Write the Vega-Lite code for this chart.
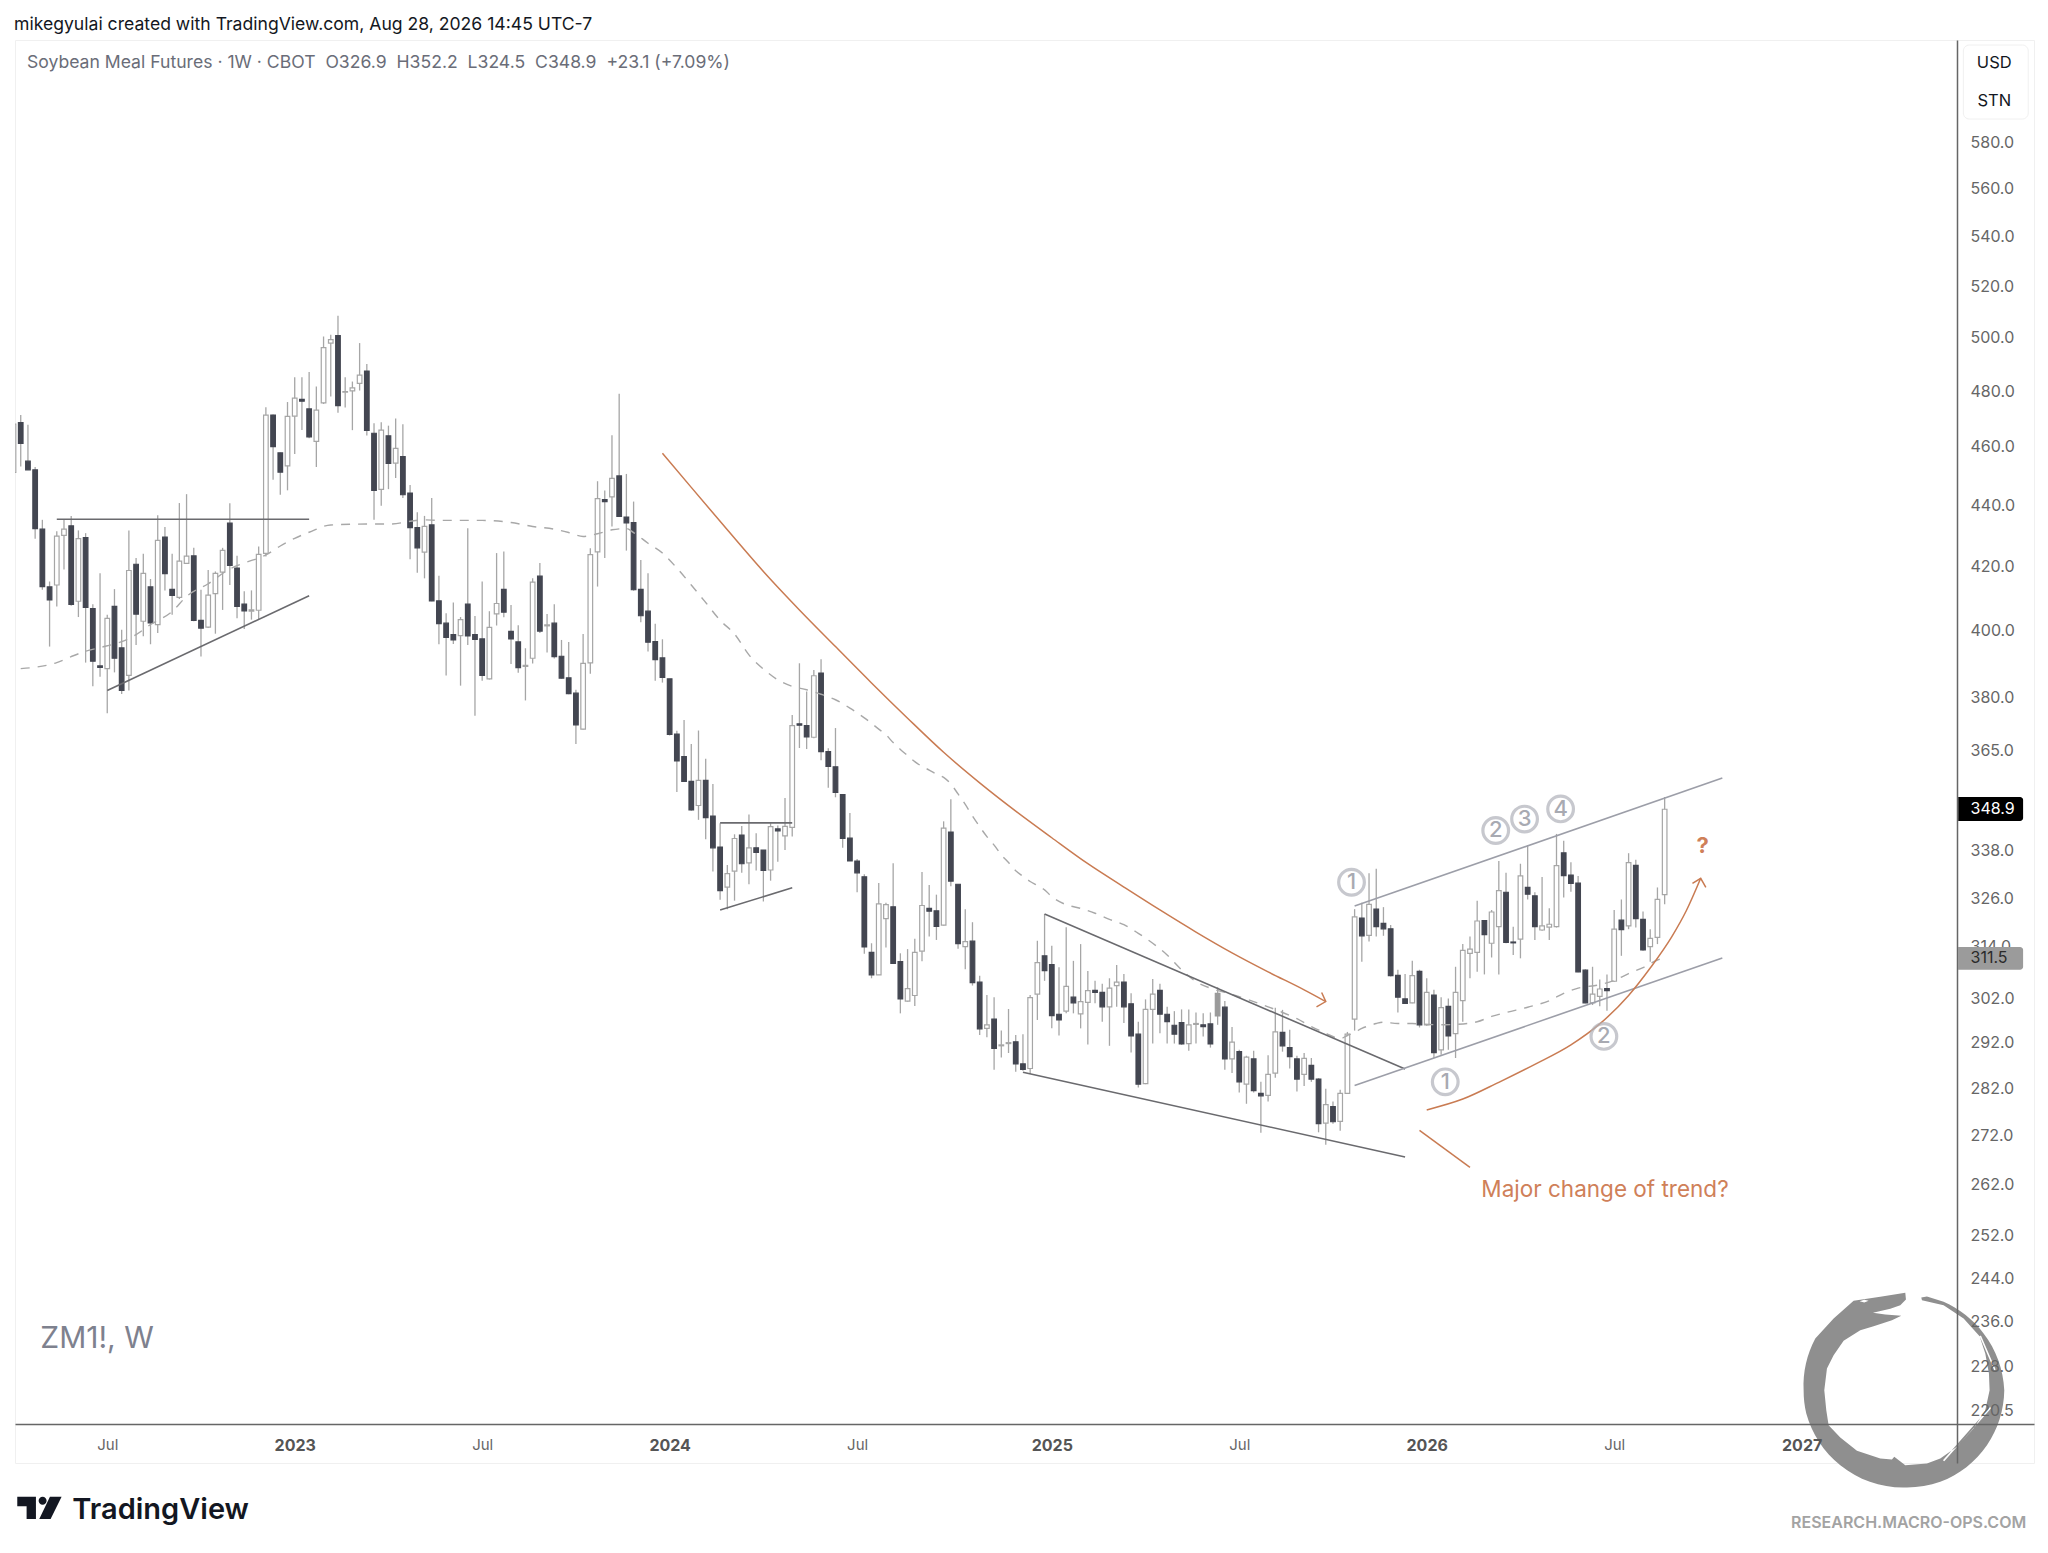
{
  "$schema": "https://vega.github.io/schema/vega-lite/v6.json",
  "width": 2019,
  "height": 1423,
  "autosize": {"type": "none"},
  "padding": {"left": 15, "top": 40, "right": 14, "bottom": 90},
  "background": "white",
  "view": {"stroke": "#f0f0f0", "strokeWidth": 1},
  "title": {
    "text": "mikegyulai created with TradingView.com, Aug 28, 2026 14:45 UTC-7",
    "anchor": "start",
    "frame": "group",
    "font": "Inter",
    "fontSize": 17.6,
    "fontWeight": "normal",
    "color": "#131722",
    "dx": -1,
    "offset": 6
  },
  "datasets": {
    "candles": [
      {"date":"2022-04-04","open":451.1,"high":468.1,"low":451.1,"close":468.1},
      {"date":"2022-04-11","open":468.6,"high":471.3,"low":453.2,"close":461.2},
      {"date":"2022-04-18","open":455.0,"high":467.8,"low":452.0,"close":452.0},
      {"date":"2022-04-25","open":452.0,"high":453.0,"low":428.9,"close":432.2},
      {"date":"2022-05-02","open":432.0,"high":435.1,"low":412.5,"close":413.5},
      {"date":"2022-05-09","open":413.4,"high":415.1,"low":395.0,"close":409.3},
      {"date":"2022-05-16","open":414.0,"high":431.3,"low":407.3,"close":429.7},
      {"date":"2022-05-23","open":430.0,"high":435.3,"low":418.9,"close":432.0},
      {"date":"2022-05-30","open":433.1,"high":436.4,"low":407.5,"close":407.9},
      {"date":"2022-06-06","open":408.9,"high":431.6,"low":404.0,"close":428.9},
      {"date":"2022-06-13","open":429.2,"high":430.7,"low":390.2,"close":407.0},
      {"date":"2022-06-20","open":406.6,"high":408.0,"low":383.2,"close":390.6},
      {"date":"2022-06-27","open":389.2,"high":417.7,"low":386.0,"close":388.8},
      {"date":"2022-07-04","open":388.4,"high":404.7,"low":375.4,"close":403.6},
      {"date":"2022-07-11","open":407.3,"high":412.7,"low":387.3,"close":391.5},
      {"date":"2022-07-18","open":394.6,"high":400.1,"low":381.0,"close":382.0},
      {"date":"2022-07-25","open":386.4,"high":431.6,"low":382.0,"close":418.6},
      {"date":"2022-08-01","open":420.6,"high":422.6,"low":395.5,"close":404.9},
      {"date":"2022-08-08","open":402.7,"high":424.0,"low":398.1,"close":417.7},
      {"date":"2022-08-15","open":413.4,"high":415.9,"low":395.7,"close":402.2},
      {"date":"2022-08-22","open":401.7,"high":436.6,"low":399.1,"close":428.3},
      {"date":"2022-08-29","open":429.4,"high":432.7,"low":412.3,"close":417.6},
      {"date":"2022-09-05","open":412.6,"high":424.0,"low":404.7,"close":410.7},
      {"date":"2022-09-12","open":410.1,"high":440.7,"low":409.6,"close":421.6},
      {"date":"2022-09-19","open":420.9,"high":443.7,"low":420.7,"close":423.2},
      {"date":"2022-09-26","open":423.3,"high":425.9,"low":402.7,"close":403.0},
      {"date":"2022-10-03","open":403.0,"high":412.5,"low":392.0,"close":400.6},
      {"date":"2022-10-10","open":400.9,"high":418.8,"low":400.6,"close":410.8},
      {"date":"2022-10-17","open":411.3,"high":418.3,"low":398.9,"close":417.7},
      {"date":"2022-10-24","open":418.1,"high":425.9,"low":406.2,"close":425.1},
      {"date":"2022-10-31","open":434.0,"high":440.6,"low":414.0,"close":420.2},
      {"date":"2022-11-07","open":419.4,"high":423.3,"low":403.6,"close":407.3},
      {"date":"2022-11-14","open":408.0,"high":412.0,"low":400.3,"close":405.9},
      {"date":"2022-11-21","open":405.8,"high":412.3,"low":403.2,"close":406.2},
      {"date":"2022-11-28","open":406.1,"high":426.3,"low":403.4,"close":423.8},
      {"date":"2022-12-05","open":424.1,"high":474.1,"low":423.1,"close":471.3},
      {"date":"2022-12-12","open":471.3,"high":471.5,"low":448.6,"close":460.1},
      {"date":"2022-12-19","open":457.9,"high":458.0,"low":443.5,"close":451.2},
      {"date":"2022-12-26","open":453.4,"high":476.0,"low":445.0,"close":470.8},
      {"date":"2023-01-02","open":470.9,"high":485.1,"low":457.5,"close":477.4},
      {"date":"2023-01-09","open":477.0,"high":485.1,"low":466.0,"close":476.3},
      {"date":"2023-01-16","open":473.5,"high":487.0,"low":463.0,"close":463.5},
      {"date":"2023-01-23","open":461.9,"high":481.7,"low":453.0,"close":473.1},
      {"date":"2023-01-30","open":475.7,"high":500.4,"low":475.3,"close":496.2},
      {"date":"2023-02-06","open":497.9,"high":501.1,"low":478.0,"close":499.2},
      {"date":"2023-02-13","open":500.7,"high":508.4,"low":472.1,"close":474.7},
      {"date":"2023-02-20","open":479.6,"high":485.1,"low":474.0,"close":479.8},
      {"date":"2023-02-27","open":480.1,"high":483.5,"low":465.9,"close":481.2},
      {"date":"2023-03-06","open":482.8,"high":497.9,"low":480.2,"close":485.9},
      {"date":"2023-03-13","open":487.4,"high":490.0,"low":464.0,"close":465.8},
      {"date":"2023-03-20","open":464.8,"high":468.4,"low":435.1,"close":445.0},
      {"date":"2023-03-27","open":445.3,"high":468.7,"low":439.8,"close":465.9},
      {"date":"2023-04-03","open":463.9,"high":467.5,"low":445.4,"close":454.2},
      {"date":"2023-04-10","open":454.3,"high":470.1,"low":449.2,"close":459.5},
      {"date":"2023-04-17","open":456.6,"high":468.0,"low":442.4,"close":443.5},
      {"date":"2023-04-24","open":444.1,"high":446.8,"low":422.2,"close":432.5},
      {"date":"2023-05-01","open":432.5,"high":437.6,"low":417.9,"close":425.9},
      {"date":"2023-05-08","open":424.5,"high":436.4,"low":416.1,"close":432.9},
      {"date":"2023-05-15","open":433.4,"high":442.4,"low":408.9,"close":409.0},
      {"date":"2023-05-22","open":409.0,"high":416.9,"low":395.7,"close":402.0},
      {"date":"2023-05-29","open":402.1,"high":405.2,"low":386.4,"close":397.8},
      {"date":"2023-06-05","open":398.6,"high":408.5,"low":395.8,"close":397.0},
      {"date":"2023-06-12","open":398.3,"high":404.0,"low":383.4,"close":403.2},
      {"date":"2023-06-19","open":408.0,"high":432.3,"low":395.5,"close":398.2},
      {"date":"2023-06-26","open":398.6,"high":404.3,"low":374.7,"close":397.2},
      {"date":"2023-07-03","open":397.3,"high":415.1,"low":384.8,"close":386.4},
      {"date":"2023-07-10","open":385.4,"high":405.8,"low":385.2,"close":400.8},
      {"date":"2023-07-17","open":405.0,"high":424.2,"low":401.4,"close":408.2},
      {"date":"2023-07-24","open":412.6,"high":424.7,"low":403.9,"close":405.5},
      {"date":"2023-07-31","open":399.6,"high":407.7,"low":389.8,"close":397.3},
      {"date":"2023-08-07","open":396.4,"high":401.5,"low":387.2,"close":388.7},
      {"date":"2023-08-14","open":389.1,"high":394.5,"low":379.1,"close":389.4},
      {"date":"2023-08-21","open":391.5,"high":416.1,"low":389.9,"close":414.9},
      {"date":"2023-08-28","open":416.8,"high":421.0,"low":399.1,"close":399.7},
      {"date":"2023-09-04","open":401.3,"high":404.9,"low":393.2,"close":401.6},
      {"date":"2023-09-11","open":402.1,"high":408.0,"low":391.4,"close":392.0},
      {"date":"2023-09-18","open":392.1,"high":397.0,"low":385.4,"close":385.6},
      {"date":"2023-09-25","open":385.7,"high":396.4,"low":380.9,"close":381.1},
      {"date":"2023-10-02","open":381.2,"high":382.2,"low":366.7,"close":372.1},
      {"date":"2023-10-09","open":370.9,"high":398.8,"low":370.8,"close":390.0},
      {"date":"2023-10-16","open":390.1,"high":425.8,"low":386.9,"close":423.7},
      {"date":"2023-10-23","open":424.6,"high":448.1,"low":413.5,"close":442.2},
      {"date":"2023-10-30","open":441.9,"high":444.9,"low":422.6,"close":441.2},
      {"date":"2023-11-06","open":442.8,"high":464.1,"low":432.9,"close":449.1},
      {"date":"2023-11-13","open":449.9,"high":479.0,"low":436.0,"close":436.2},
      {"date":"2023-11-20","open":436.0,"high":450.6,"low":425.0,"close":434.1},
      {"date":"2023-11-27","open":434.2,"high":441.2,"low":412.2,"close":412.5},
      {"date":"2023-12-04","open":412.6,"high":422.0,"low":402.4,"close":404.4},
      {"date":"2023-12-11","open":405.8,"high":417.7,"low":393.5,"close":396.3},
      {"date":"2023-12-18","open":396.5,"high":401.9,"low":384.8,"close":391.1},
      {"date":"2023-12-25","open":391.6,"high":397.2,"low":384.3,"close":385.8},
      {"date":"2024-01-01","open":385.4,"high":385.4,"low":369.1,"close":369.4},
      {"date":"2024-01-08","open":369.5,"high":370.4,"low":353.5,"close":362.0},
      {"date":"2024-01-15","open":363.2,"high":373.5,"low":356.2,"close":356.4},
      {"date":"2024-01-22","open":356.4,"high":366.7,"low":348.5,"close":348.7},
      {"date":"2024-01-29","open":349.9,"high":370.5,"low":346.1,"close":356.7},
      {"date":"2024-02-05","open":356.7,"high":362.6,"low":341.0,"close":346.7},
      {"date":"2024-02-12","open":347.1,"high":355.7,"low":332.7,"close":338.8},
      {"date":"2024-02-19","open":339.0,"high":345.2,"low":325.6,"close":327.9},
      {"date":"2024-02-26","open":328.8,"high":334.4,"low":323.3,"close":332.2},
      {"date":"2024-03-04","open":332.8,"high":342.3,"low":325.4,"close":341.2},
      {"date":"2024-03-11","open":342.1,"high":344.5,"low":332.4,"close":334.7},
      {"date":"2024-03-18","open":334.9,"high":347.5,"low":329.5,"close":338.8},
      {"date":"2024-03-25","open":338.8,"high":342.6,"low":333.0,"close":337.6},
      {"date":"2024-04-01","open":338.2,"high":338.2,"low":325.2,"close":333.0},
      {"date":"2024-04-08","open":333.1,"high":345.2,"low":330.4,"close":344.3},
      {"date":"2024-04-15","open":343.7,"high":344.6,"low":335.2,"close":343.2},
      {"date":"2024-04-22","open":341.9,"high":351.9,"low":338.2,"close":344.4},
      {"date":"2024-04-29","open":344.1,"high":374.9,"low":341.7,"close":371.9},
      {"date":"2024-05-06","open":372.4,"high":390.0,"low":365.6,"close":372.0},
      {"date":"2024-05-13","open":371.9,"high":381.7,"low":365.3,"close":368.7},
      {"date":"2024-05-20","open":368.6,"high":388.0,"low":368.3,"close":386.3},
      {"date":"2024-05-27","open":387.1,"high":391.2,"low":362.2,"close":364.6},
      {"date":"2024-06-03","open":364.6,"high":365.5,"low":354.7,"close":360.5},
      {"date":"2024-06-10","open":360.4,"high":371.2,"low":352.1,"close":353.4},
      {"date":"2024-06-17","open":352.8,"high":352.8,"low":338.8,"close":341.2},
      {"date":"2024-06-24","open":341.3,"high":347.9,"low":335.4,"close":335.4},
      {"date":"2024-07-01","open":335.4,"high":335.9,"low":327.5,"close":332.4},
      {"date":"2024-07-08","open":331.4,"high":332.0,"low":312.5,"close":314.1},
      {"date":"2024-07-15","open":312.8,"high":315.0,"low":306.7,"close":307.5},
      {"date":"2024-07-22","open":307.5,"high":329.8,"low":307.5,"close":324.6},
      {"date":"2024-07-29","open":321.0,"high":324.9,"low":314.0,"close":324.4},
      {"date":"2024-08-05","open":323.9,"high":334.8,"low":310.1,"close":310.2},
      {"date":"2024-08-12","open":310.6,"high":312.6,"low":298.6,"close":301.9},
      {"date":"2024-08-19","open":301.4,"high":313.6,"low":301.3,"close":304.3},
      {"date":"2024-08-26","open":302.7,"high":316.1,"low":300.3,"close":312.8},
      {"date":"2024-09-02","open":313.1,"high":332.6,"low":310.7,"close":324.2},
      {"date":"2024-09-09","open":323.5,"high":329.3,"low":316.6,"close":322.8},
      {"date":"2024-09-16","open":322.9,"high":326.9,"low":315.8,"close":319.1},
      {"date":"2024-09-23","open":319.4,"high":345.7,"low":319.3,"close":343.9},
      {"date":"2024-09-30","open":342.9,"high":351.6,"low":329.0,"close":330.3},
      {"date":"2024-10-07","open":329.5,"high":329.5,"low":313.7,"close":314.9},
      {"date":"2024-10-14","open":314.2,"high":323.3,"low":308.8,"close":315.4},
      {"date":"2024-10-21","open":315.5,"high":320.1,"low":305.0,"close":305.7},
      {"date":"2024-10-28","open":305.8,"high":307.3,"low":293.7,"close":295.1},
      {"date":"2024-11-04","open":295.2,"high":302.8,"low":293.2,"close":296.0},
      {"date":"2024-11-11","open":297.3,"high":302.3,"low":286.0,"close":290.7},
      {"date":"2024-11-18","open":291.3,"high":294.7,"low":288.7,"close":291.5},
      {"date":"2024-11-25","open":291.8,"high":299.6,"low":289.7,"close":292.0},
      {"date":"2024-12-02","open":292.2,"high":293.7,"low":285.6,"close":287.3},
      {"date":"2024-12-09","open":287.3,"high":293.9,"low":285.8,"close":286.1},
      {"date":"2024-12-16","open":286.3,"high":302.8,"low":285.1,"close":302.2},
      {"date":"2024-12-23","open":303.0,"high":315.6,"low":297.1,"close":310.4},
      {"date":"2024-12-30","open":312.0,"high":322.1,"low":306.1,"close":308.5},
      {"date":"2025-01-06","open":309.9,"high":314.4,"low":295.2,"close":298.1},
      {"date":"2025-01-13","open":298.4,"high":309.3,"low":293.6,"close":297.1},
      {"date":"2025-01-20","open":299.1,"high":318.9,"low":298.6,"close":304.8},
      {"date":"2025-01-27","open":302.3,"high":310.8,"low":298.6,"close":301.0},
      {"date":"2025-02-03","open":298.5,"high":314.8,"low":295.2,"close":301.3},
      {"date":"2025-02-10","open":301.1,"high":308.4,"low":291.6,"close":303.8},
      {"date":"2025-02-17","open":303.9,"high":306.1,"low":300.9,"close":303.4},
      {"date":"2025-02-24","open":303.4,"high":305.4,"low":296.7,"close":300.1},
      {"date":"2025-03-03","open":300.1,"high":306.7,"low":291.3,"close":304.4},
      {"date":"2025-03-10","open":305.0,"high":309.8,"low":300.1,"close":305.8},
      {"date":"2025-03-17","open":305.8,"high":307.7,"low":296.4,"close":300.1},
      {"date":"2025-03-24","open":300.8,"high":303.2,"low":289.8,"close":293.5},
      {"date":"2025-03-31","open":293.9,"high":296.7,"low":282.2,"close":282.9},
      {"date":"2025-04-07","open":283.0,"high":301.8,"low":282.9,"close":299.5},
      {"date":"2025-04-14","open":299.5,"high":306.5,"low":291.8,"close":303.0},
      {"date":"2025-04-21","open":303.9,"high":305.4,"low":294.1,"close":298.4},
      {"date":"2025-04-28","open":298.4,"high":300.1,"low":291.8,"close":296.7},
      {"date":"2025-05-05","open":295.9,"high":299.1,"low":291.8,"close":293.9},
      {"date":"2025-05-12","open":296.5,"high":299.5,"low":291.5,"close":291.7},
      {"date":"2025-05-19","open":291.8,"high":299.5,"low":290.2,"close":296.0},
      {"date":"2025-05-26","open":296.1,"high":298.8,"low":291.8,"close":296.3},
      {"date":"2025-06-02","open":296.0,"high":298.6,"low":293.4,"close":295.6},
      {"date":"2025-06-09","open":296.2,"high":298.8,"low":290.9,"close":291.7},
      {"date":"2025-06-16","open":303.2,"high":304.6,"low":296.0,"close":298.0},
      {"date":"2025-06-23","open":300.0,"high":301.4,"low":286.0,"close":288.4},
      {"date":"2025-06-30","open":288.4,"high":295.5,"low":285.3,"close":292.1},
      {"date":"2025-07-07","open":290.0,"high":290.4,"low":281.1,"close":283.4},
      {"date":"2025-07-14","open":282.9,"high":289.1,"low":278.7,"close":288.8},
      {"date":"2025-07-21","open":288.4,"high":290.2,"low":281.1,"close":281.5},
      {"date":"2025-07-28","open":280.9,"high":283.4,"low":272.6,"close":280.4},
      {"date":"2025-08-04","open":280.5,"high":289.2,"low":279.2,"close":285.0},
      {"date":"2025-08-11","open":285.3,"high":299.9,"low":284.3,"close":294.4},
      {"date":"2025-08-18","open":294.3,"high":299.4,"low":290.0,"close":291.3},
      {"date":"2025-08-25","open":290.9,"high":294.9,"low":286.3,"close":288.9},
      {"date":"2025-09-01","open":288.4,"high":289.1,"low":281.3,"close":284.0},
      {"date":"2025-09-08","open":285.0,"high":289.7,"low":282.5,"close":288.5},
      {"date":"2025-09-15","open":287.0,"high":288.6,"low":283.4,"close":284.0},
      {"date":"2025-09-22","open":284.0,"high":284.2,"low":272.7,"close":274.5},
      {"date":"2025-09-29","open":274.6,"high":281.9,"low":270.1,"close":278.5},
      {"date":"2025-10-06","open":278.1,"high":279.2,"low":274.5,"close":274.9},
      {"date":"2025-10-13","open":275.0,"high":281.7,"low":273.0,"close":280.9},
      {"date":"2025-10-20","open":280.9,"high":294.4,"low":280.8,"close":293.9},
      {"date":"2025-10-27","open":297.3,"high":323.3,"low":294.7,"close":321.4},
      {"date":"2025-11-03","open":321.1,"high":324.9,"low":310.6,"close":316.8},
      {"date":"2025-11-10","open":316.9,"high":332.3,"low":315.4,"close":324.5},
      {"date":"2025-11-17","open":323.3,"high":333.4,"low":316.6,"close":319.0},
      {"date":"2025-11-24","open":319.8,"high":323.8,"low":316.8,"close":318.5},
      {"date":"2025-12-01","open":318.5,"high":319.4,"low":307.1,"close":307.3},
      {"date":"2025-12-08","open":307.4,"high":308.7,"low":298.8,"close":302.3},
      {"date":"2025-12-15","open":301.9,"high":307.7,"low":300.8,"close":300.9},
      {"date":"2025-12-22","open":301.0,"high":310.8,"low":300.9,"close":307.3},
      {"date":"2025-12-29","open":308.3,"high":308.7,"low":295.4,"close":296.0},
      {"date":"2026-01-05","open":296.0,"high":306.7,"low":295.8,"close":303.4},
      {"date":"2026-01-12","open":302.8,"high":304.0,"low":288.6,"close":289.8},
      {"date":"2026-01-19","open":290.4,"high":302.3,"low":289.3,"close":299.9},
      {"date":"2026-01-26","open":300.2,"high":302.0,"low":290.4,"close":293.5},
      {"date":"2026-02-02","open":294.0,"high":309.4,"low":288.6,"close":303.4},
      {"date":"2026-02-09","open":301.5,"high":314.8,"low":296.7,"close":313.3},
      {"date":"2026-02-16","open":312.6,"high":316.6,"low":306.7,"close":313.6},
      {"date":"2026-02-23","open":312.8,"high":325.4,"low":308.2,"close":320.4},
      {"date":"2026-03-02","open":320.5,"high":320.6,"low":307.6,"close":317.1},
      {"date":"2026-03-09","open":315.0,"high":323.1,"low":311.6,"close":322.6},
      {"date":"2026-03-16","open":319.0,"high":335.4,"low":307.6,"close":327.9},
      {"date":"2026-03-23","open":327.5,"high":332.4,"low":315.0,"close":315.2},
      {"date":"2026-03-30","open":315.3,"high":319.0,"low":312.2,"close":315.1},
      {"date":"2026-04-06","open":316.0,"high":334.7,"low":311.4,"close":331.6},
      {"date":"2026-04-13","open":328.7,"high":339.5,"low":325.7,"close":327.0},
      {"date":"2026-04-20","open":326.6,"high":327.5,"low":315.8,"close":319.0},
      {"date":"2026-04-27","open":318.2,"high":331.3,"low":318.0,"close":319.2},
      {"date":"2026-05-04","open":318.9,"high":323.5,"low":315.8,"close":319.6},
      {"date":"2026-05-11","open":319.0,"high":342.4,"low":318.8,"close":334.2},
      {"date":"2026-05-18","open":337.5,"high":340.6,"low":326.2,"close":331.7},
      {"date":"2026-05-25","open":331.8,"high":335.1,"low":327.6,"close":329.7},
      {"date":"2026-06-01","open":329.8,"high":331.6,"low":308.1,"close":308.2},
      {"date":"2026-06-08","open":308.6,"high":308.8,"low":300.9,"close":301.0},
      {"date":"2026-06-15","open":301.0,"high":309.4,"low":300.5,"close":303.0},
      {"date":"2026-06-22","open":302.5,"high":306.4,"low":300.2,"close":304.2},
      {"date":"2026-06-29","open":304.3,"high":307.6,"low":299.2,"close":303.8},
      {"date":"2026-07-06","open":306.0,"high":323.1,"low":305.8,"close":318.4},
      {"date":"2026-07-13","open":320.6,"high":325.7,"low":312.0,"close":318.3},
      {"date":"2026-07-20","open":319.2,"high":337.4,"low":318.4,"close":335.0},
      {"date":"2026-07-27","open":334.3,"high":335.7,"low":318.8,"close":321.0},
      {"date":"2026-08-03","open":320.8,"high":322.7,"low":313.2,"close":313.4},
      {"date":"2026-08-10","open":314.2,"high":318.4,"low":310.6,"close":316.2},
      {"date":"2026-08-17","open":316.4,"high":328.7,"low":314.8,"close":325.7},
      {"date":"2026-08-24","open":326.9,"high":352.2,"low":324.5,"close":348.9}
    ],
    "ma": [
      {"date":"2022-04-11","price":388.4},{"date":"2022-05-16","price":390.2},{"date":"2022-05-30","price":392.0},
      {"date":"2022-06-13","price":393.6},{"date":"2022-06-27","price":394.7},{"date":"2022-07-18","price":396.5},
      {"date":"2022-08-01","price":398.6},{"date":"2022-08-15","price":401.7},{"date":"2022-09-05","price":405.7},
      {"date":"2022-09-19","price":410.4},{"date":"2022-10-10","price":414.4},{"date":"2022-10-31","price":419.1},
      {"date":"2022-11-14","price":421.0},{"date":"2022-12-05","price":423.6},{"date":"2022-12-19","price":426.5},
      {"date":"2023-01-02","price":429.0},{"date":"2023-01-16","price":431.0},{"date":"2023-02-06","price":433.4},
      {"date":"2023-03-13","price":433.7},{"date":"2023-04-03","price":433.7},{"date":"2023-05-08","price":435.1},
      {"date":"2023-05-22","price":434.9},{"date":"2023-07-03","price":434.9},{"date":"2023-07-31","price":434.2},
      {"date":"2023-08-21","price":432.9},{"date":"2023-09-11","price":432.0},{"date":"2023-09-25","price":430.9},
      {"date":"2023-10-09","price":429.6},{"date":"2023-10-23","price":430.5},{"date":"2023-11-06","price":431.8},
      {"date":"2023-11-20","price":432.2},{"date":"2023-11-27","price":430.9},{"date":"2023-12-11","price":427.4},
      {"date":"2023-12-25","price":424.2},{"date":"2024-01-08","price":419.4},{"date":"2024-01-22","price":414.0},
      {"date":"2024-02-05","price":408.5},{"date":"2024-02-19","price":403.0},{"date":"2024-03-04","price":398.8},
      {"date":"2024-03-18","price":392.5},{"date":"2024-04-01","price":388.3},{"date":"2024-04-15","price":385.1},
      {"date":"2024-04-29","price":383.2},{"date":"2024-05-13","price":382.2},{"date":"2024-05-27","price":380.9},
      {"date":"2024-06-10","price":379.3},{"date":"2024-06-24","price":376.9},{"date":"2024-07-08","price":374.1},
      {"date":"2024-07-22","price":370.9},{"date":"2024-07-29","price":369.3},{"date":"2024-08-05","price":367.1},
      {"date":"2024-08-12","price":365.2},{"date":"2024-08-19","price":363.5},{"date":"2024-08-26","price":361.8},
      {"date":"2024-09-02","price":360.5},{"date":"2024-09-09","price":359.5},{"date":"2024-09-16","price":358.4},
      {"date":"2024-09-23","price":357.5},{"date":"2024-09-30","price":355.7},{"date":"2024-10-07","price":353.0},
      {"date":"2024-10-14","price":350.2},{"date":"2024-10-21","price":347.1},{"date":"2024-10-28","price":344.3},
      {"date":"2024-11-04","price":341.7},{"date":"2024-11-11","price":339.5},{"date":"2024-11-18","price":337.0},
      {"date":"2024-11-25","price":335.0},{"date":"2024-12-02","price":332.9},{"date":"2024-12-09","price":331.5},
      {"date":"2024-12-16","price":330.2},{"date":"2024-12-23","price":329.2},{"date":"2024-12-30","price":328.1},
      {"date":"2025-01-06","price":326.4},{"date":"2025-01-20","price":324.4},
      {"date":"2025-02-03","price":323.5},{"date":"2025-02-17","price":322.3},{"date":"2025-03-03","price":320.8},
      {"date":"2025-03-17","price":319.5},{"date":"2025-03-31","price":317.4},{"date":"2025-04-14","price":315.0},
      {"date":"2025-04-28","price":312.2},{"date":"2025-05-12","price":308.7},{"date":"2025-05-26","price":305.9},
      {"date":"2025-06-09","price":304.4},{"date":"2025-06-23","price":303.4},{"date":"2025-07-07","price":302.4},
      {"date":"2025-07-21","price":301.3},{"date":"2025-08-04","price":300.1},{"date":"2025-08-18","price":298.8},
      {"date":"2025-09-01","price":297.4},{"date":"2025-09-15","price":295.6},{"date":"2025-09-29","price":294.1},
      {"date":"2025-10-13","price":292.9},{"date":"2025-10-20","price":293.6},{"date":"2025-10-27","price":294.3},
      {"date":"2025-11-03","price":295.2},{"date":"2025-11-10","price":295.8},{"date":"2025-11-17","price":296.3},
      {"date":"2025-11-24","price":296.6},{"date":"2025-12-08","price":296.3},{"date":"2025-12-22","price":296.3},
      {"date":"2025-12-29","price":296.2},{"date":"2026-01-19","price":296.0},{"date":"2026-02-02","price":296.1},
      {"date":"2026-02-23","price":296.7},{"date":"2026-03-09","price":297.9},{"date":"2026-03-23","price":298.8},
      {"date":"2026-04-13","price":300.0},{"date":"2026-05-04","price":301.5},{"date":"2026-05-18","price":303.2},
      {"date":"2026-06-01","price":304.4},{"date":"2026-06-22","price":305.2},{"date":"2026-07-06","price":306.2},
      {"date":"2026-07-20","price":307.8},{"date":"2026-08-03","price":309.2},{"date":"2026-08-17","price":311.0},
      {"date":"2026-08-24","price":311.5}
    ],
    "trendlines": [
      {"name":"a","kind":"dark","date":"2022-05-16","price":435.3},{"name":"a","kind":"dark","date":"2023-01-16","price":435.3},
      {"name":"b","kind":"dark","date":"2022-07-04","price":382.0},{"name":"b","kind":"dark","date":"2023-01-16","price":410.6},
      {"name":"c","kind":"dark","date":"2024-02-19","price":345.3},{"name":"c","kind":"dark","date":"2024-04-29","price":345.3},
      {"name":"d","kind":"dark","date":"2024-02-19","price":323.1},{"name":"d","kind":"dark","date":"2024-04-29","price":328.6},
      {"name":"e","kind":"dark","date":"2024-12-30","price":322.1},{"name":"e","kind":"dark","date":"2025-12-15","price":286.2},
      {"name":"f","kind":"dark","date":"2024-12-09","price":285.5},{"name":"f","kind":"dark","date":"2025-12-15","price":267.6},
      {"name":"g","kind":"channel","date":"2025-10-27","price":324.1},{"name":"g","kind":"channel","date":"2026-10-19","price":357.3},
      {"name":"h","kind":"channel","date":"2025-10-27","price":282.6},{"name":"h","kind":"channel","date":"2026-10-19","price":311.5}
    ],
    "curves": [
      {"name":"down","date":"2023-12-25","price":457.8},{"name":"down","date":"2024-01-22","price":446.0},
      {"name":"down","date":"2024-02-26","price":431.8},{"name":"down","date":"2024-04-01","price":418.3},
      {"name":"down","date":"2024-05-06","price":406.2},{"name":"down","date":"2024-06-10","price":395.0},
      {"name":"down","date":"2024-07-15","price":384.2},{"name":"down","date":"2024-08-19","price":374.0},
      {"name":"down","date":"2024-09-23","price":364.4},
      {"name":"down","date":"2024-10-28","price":356.0},{"name":"down","date":"2024-12-02","price":348.4},
      {"name":"down","date":"2025-01-06","price":341.4},{"name":"down","date":"2025-02-10","price":334.7},
      {"name":"down","date":"2025-03-17","price":328.8},{"name":"down","date":"2025-04-21","price":323.1},
      {"name":"down","date":"2025-05-26","price":317.7},{"name":"down","date":"2025-06-30","price":312.7},
      {"name":"down","date":"2025-08-04","price":308.2},{"name":"down","date":"2025-09-08","price":304.0},
      {"name":"down","date":"2025-09-29","price":301.3},
      {"name":"up","date":"2026-01-05","price":277.4},{"name":"up","date":"2026-02-09","price":279.7},
      {"name":"up","date":"2026-03-16","price":283.3},{"name":"up","date":"2026-04-20","price":287.2},
      {"name":"up","date":"2026-05-25","price":291.5},{"name":"up","date":"2026-06-22","price":296.2},
      {"name":"up","date":"2026-07-20","price":302.7},{"name":"up","date":"2026-08-10","price":309.1},
      {"name":"up","date":"2026-08-31","price":316.6},{"name":"up","date":"2026-09-14","price":322.9},
      {"name":"up","date":"2026-09-28","price":331.0}
    ],
    "strokes": [
      {"name":"head1","seq":1,"date":"2025-09-20","price":300.1},{"name":"head1","seq":2,"date":"2025-09-29","price":301.3},{"name":"head1","seq":3,"date":"2025-09-25","price":303.4},
      {"name":"head2","seq":1,"date":"2026-09-20","price":329.7},{"name":"head2","seq":2,"date":"2026-09-28","price":331.0},{"name":"head2","seq":3,"date":"2026-10-03","price":328.7},
      {"name":"pointer","seq":1,"date":"2025-12-29","price":273.1},{"name":"pointer","seq":2,"date":"2026-02-16","price":265.5}
    ],
    "counts": [
      {"date":"2025-10-24","price":330.0,"label":"1"},
      {"date":"2026-03-13","price":343.3,"label":"2"},
      {"date":"2026-04-10","price":346.3,"label":"3"},
      {"date":"2026-05-15","price":349.0,"label":"4"},
      {"date":"2026-01-23","price":283.4,"label":"1"},
      {"date":"2026-06-26","price":293.4,"label":"2"}
    ],
    "hiddenTick": [
      {"date":"2027-06-17","price":314,"label":"314.0"}
    ],
    "tags": [
      {"label":"348.9","date":"2027-06-05","date2":"2027-08-07","top":352.2,"bottom":345.8,"textDate":"2027-06-17","price":348.9},
      {"label":"311.5","date":"2027-06-05","date2":"2027-08-07","top":314.1,"bottom":308.7,"textDate":"2027-06-17","price":311.5}
    ],
    "scaleBox": [
      {"date":"2027-06-10","date2":"2027-08-12","top":625.0,"bottom":590.7}
    ],
    "scaleText": [
      {"date":"2027-07-10","price":616.5,"label":"USD"},
      {"date":"2027-07-10","price":599.0,"label":"STN"}
    ],
    "legendText": [
      {"date":"2022-04-17","price":616.5,"label":"Soybean Meal Futures · 1W · CBOT\u00a0\u00a0O326.9\u00a0\u00a0H352.2\u00a0\u00a0L324.5\u00a0\u00a0C348.9\u00a0\u00a0+23.1 (+7.09%)"}
    ],
    "watermarkText": [
      {"date":"2022-04-30","price":232.9,"label":"ZM1!, W"}
    ],
    "brand": [
      {"date":"2022-05-31","price":203.1,"label":"TradingView"}
    ],
    "site": [
      {"date":"2027-08-10","price":201.7,"label":"RESEARCH.MACRO-OPS.COM"}
    ],
    "note": [
      {"date":"2026-02-27","price":259.6,"label":"Major change of trend?"}
    ],
    "question": [
      {"date":"2026-09-30","price":339.3,"label":"?"}
    ],
    "tvLogo": [{"date":"2022-04-29","price":204.8}],
    "ring": [{"date":"2027-04-13","price":224.0}]
  },
  "encoding": {
    "x": {
      "field": "date",
      "type": "temporal",
      "title": null,
      "scale": {"type": "utc", "domain": ["2022-04-05T10:30:00Z", "2027-08-17T14:00:00Z"], "nice": false, "padding": 0},
      "axis": {
        "orient": "bottom",
        "offset": -39,
        "zindex": 1,
        "grid": false,
        "ticks": false,
        "domainColor": "#666666",
        "domainWidth": 1.5,
        "labelFont": "Inter",
        "labelFontSize": {"condition": {"test": "utcmonth(datum.value)==0", "value": 16}, "value": 15},
        "labelColor": {"condition": {"test": "utcmonth(datum.value)==0", "value": "#555555"}, "value": "#666666"},
        "labelPadding": 13,
        "labelBound": false,
        "labelFlush": false,
        "labelOverlap": false,
        "labelFontWeight": {"condition": {"test": "utcmonth(datum.value)==0", "value": "bold"}, "value": "normal"},
        "values": ["2022-07-04", "2023-01-02", "2023-07-03", "2024-01-01", "2024-07-01", "2025-01-06", "2025-07-07", "2026-01-05", "2026-07-06", "2027-01-04"],
        "labelExpr": "utcmonth(datum.value)==0 ? utcFormat(datum.value, '%Y') : 'Jul'"
      }
    },
    "y": {
      "field": "price",
      "type": "quantitative",
      "title": null,
      "scale": {"type": "log", "domain": [211.9, 627.4], "nice": false, "zero": false},
      "axis": {
        "orient": "right",
        "offset": -77,
        "zindex": 1,
        "grid": false,
        "ticks": false,
        "domainColor": "#666666",
        "domainWidth": 1.5,
        "labelFont": "Inter",
        "labelFontSize": 16,
        "labelColor": "#666666",
        "labelPadding": 13,
        "labelBound": false,
        "labelFlush": false,
        "labelOverlap": false,
        "format": ".1f",
        "values": [580, 560, 540, 520, 500, 480, 460, 440, 420, 400, 380, 365, 338, 326, 302, 292, 282, 272, 262, 252, 244, 236, 228, 220.5]
      }
    }
  },
  "layer": [
    {
      "data": {"name": "ring"},
      "mark": {
        "type": "point",
        "filled": true,
        "fill": "#8f8f8f",
        "opacity": 1,
        "size": 0.4444,
        "shape": "M5,-292 L7,-272 L-10,-255 L-40,-244 L-92,-232 L-55,-227 L-7,-223 L-35,-210 L-90,-192 L-130,-180 L-180,-148 L-210,-105 L-230,-65 L-238,0 L-232,60 L-225,105 L-190,142 L-140,182 L-70,205 L-35,208 L-28,200 L5,225 L70,220 L110,205 L160,170 L210,115 L245,60 L258,0 L256,-50 L245,-110 L228,-162 L180,-215 L120,-255 L55,-270 L53,-278 L70,-281 L120,-265 A300,300 0 0 1 240,-170 A300,300 0 0 1 302,0 A300,300 0 0 1 250,165 A300,300 0 0 1 110,275 A300,300 0 0 1 0,292 A300,300 0 0 1 -190,225 A300,300 0 0 1 -292,70 A300,300 0 0 1 -300,0 A300,300 0 0 1 -265,-155 L-210,-215 L-150,-268 L-70,-280 Z M-132,-267 L-118,-263 L-105,-268 L-118,-271 Z M122,213 L262,55 L260,50 L118,210 Z M228,-162 L272,-60 L276,-62 L232,-164 Z"
      },
      "encoding": {}
    },
    {
      "data": {"name": "candles"},
      "mark": {"type": "rule", "color": "#a6a6a6", "strokeWidth": 1.3, "clip": true},
      "encoding": {
        "y": {"field": "low", "type": "quantitative", "title": null},
        "y2": {"field": "high"}
      }
    },
    {
      "data": {"name": "candles"},
      "mark": {"type": "bar", "orient": "vertical", "width": 4.6, "strokeWidth": 1.2, "clip": true},
      "encoding": {
        "y": {"field": "open", "type": "quantitative", "title": null},
        "y2": {"field": "close"},
        "fill": {
          "condition": [
            {"test": "time(datum.date)==time(datetime('2025-06-16'))", "value": "#9a9a9a"},
            {"test": "datum.close<datum.open", "value": "#434651"}
          ],
          "value": "#ffffff"
        },
        "stroke": {
          "condition": [
            {"test": "time(datum.date)==time(datetime('2025-06-16'))", "value": "#9a9a9a"},
            {"test": "datum.close<datum.open", "value": "#434651"}
          ],
          "value": "#a6a6a6"
        }
      }
    },
    {
      "data": {"name": "ma"},
      "mark": {"type": "line", "color": "#a8a8a8", "strokeWidth": 1.4, "strokeDash": [9, 8], "interpolate": "monotone"},
      "encoding": {}
    },
    {
      "data": {"name": "trendlines"},
      "mark": {"type": "line", "strokeWidth": 1.6},
      "encoding": {
        "detail": {"field": "name"},
        "color": {
          "field": "kind",
          "type": "nominal",
          "legend": null,
          "scale": {"domain": ["dark", "channel"], "range": ["#6a6a6e", "#9c9ea8"]}
        }
      }
    },
    {
      "data": {"name": "curves"},
      "mark": {"type": "line", "color": "#c97b52", "strokeWidth": 1.5, "interpolate": "monotone"},
      "encoding": {"detail": {"field": "name"}}
    },
    {
      "data": {"name": "strokes"},
      "mark": {"type": "line", "color": "#c97b52", "strokeWidth": 1.5},
      "encoding": {"detail": {"field": "name"}, "order": {"field": "seq"}}
    },
    {
      "data": {"name": "counts"},
      "mark": {"type": "point", "shape": "circle", "size": 660, "filled": false, "stroke": "#b0b2ba", "strokeWidth": 3.2},
      "encoding": {}
    },
    {
      "data": {"name": "counts"},
      "mark": {"type": "text", "font": "Inter", "fontSize": 22, "fontWeight": 500, "color": "#a8aab2", "baseline": "middle", "align": "center"},
      "encoding": {"text": {"field": "label"}}
    },
    {
      "data": {"name": "note"},
      "mark": {"type": "text", "font": "Inter", "fontSize": 22.5, "color": "#cf8059", "align": "left", "baseline": "alphabetic"},
      "encoding": {"text": {"field": "label"}}
    },
    {
      "data": {"name": "question"},
      "mark": {"type": "text", "font": "Inter", "fontSize": 22, "fontWeight": "bold", "color": "#cf8059", "align": "center", "baseline": "middle"},
      "encoding": {"text": {"field": "label"}}
    },
    {
      "data": {"name": "legendText"},
      "mark": {"type": "text", "font": "Inter", "fontSize": 17.6, "color": "#6a6d78", "align": "left", "baseline": "middle"},
      "encoding": {"text": {"field": "label"}}
    },
    {
      "data": {"name": "watermarkText"},
      "mark": {"type": "text", "font": "Inter", "fontSize": 30, "color": "#7e818e", "align": "left", "baseline": "middle"},
      "encoding": {"text": {"field": "label"}}
    },
    {
      "data": {"name": "scaleBox"},
      "mark": {"type": "rect", "fill": "#ffffff", "stroke": "#f0f0f0", "cornerRadius": 6},
      "encoding": {
        "x": {"field": "date", "type": "temporal", "title": null},
        "x2": {"field": "date2"},
        "y": {"field": "top", "type": "quantitative", "title": null},
        "y2": {"field": "bottom"}
      }
    },
    {
      "data": {"name": "scaleText"},
      "mark": {"type": "text", "font": "Inter", "fontSize": 16.5, "color": "#131722", "align": "center", "baseline": "middle"},
      "encoding": {"text": {"field": "label"}}
    },
    {
      "data": {"name": "hiddenTick"},
      "mark": {"type": "text", "font": "Inter", "fontSize": 16, "color": "#666666", "align": "left", "baseline": "middle"},
      "encoding": {"text": {"field": "label"}}
    },
    {
      "data": {"name": "tags"},
      "mark": {"type": "rect", "cornerRadiusTopRight": 3, "cornerRadiusBottomRight": 3},
      "encoding": {
        "x": {"field": "date", "type": "temporal", "title": null},
        "x2": {"field": "date2"},
        "y": {"field": "top", "type": "quantitative", "title": null},
        "y2": {"field": "bottom"},
        "fill": {"condition": {"test": "datum.label=='348.9'", "value": "#000000"}, "value": "#9b9b9b"}
      }
    },
    {
      "data": {"name": "tags"},
      "mark": {"type": "text", "font": "Inter", "fontSize": 16, "align": "left", "baseline": "middle"},
      "encoding": {
        "x": {"field": "textDate", "type": "temporal", "title": null},
        "text": {"field": "label"},
        "color": {"condition": {"test": "datum.label=='348.9'", "value": "#ffffff"}, "value": "#2a2a2a"}
      }
    },
    {
      "data": {"name": "brand"},
      "mark": {"type": "text", "font": "Inter", "fontSize": 29, "fontWeight": 600, "color": "#131722", "align": "left", "baseline": "alphabetic"},
      "encoding": {"text": {"field": "label"}}
    },
    {
      "data": {"name": "tvLogo"},
      "mark": {
        "type": "point",
        "filled": true,
        "fill": "#131722",
        "opacity": 1,
        "size": 0.4444,
        "shape": "M-66,-33 H-10 V34 H-38 V-4 H-66 Z M-2,-21 a12,12 0 1,0 24,0 a12,12 0 1,0 -24,0 Z M32,-33 H67 L34,34 H0 Z"
      },
      "encoding": {}
    },
    {
      "data": {"name": "site"},
      "mark": {"type": "text", "font": "Inter", "fontSize": 16, "fontWeight": 600, "color": "#a3a3a3", "align": "right", "baseline": "alphabetic"},
      "encoding": {"text": {"field": "label"}}
    }
  ]
}
